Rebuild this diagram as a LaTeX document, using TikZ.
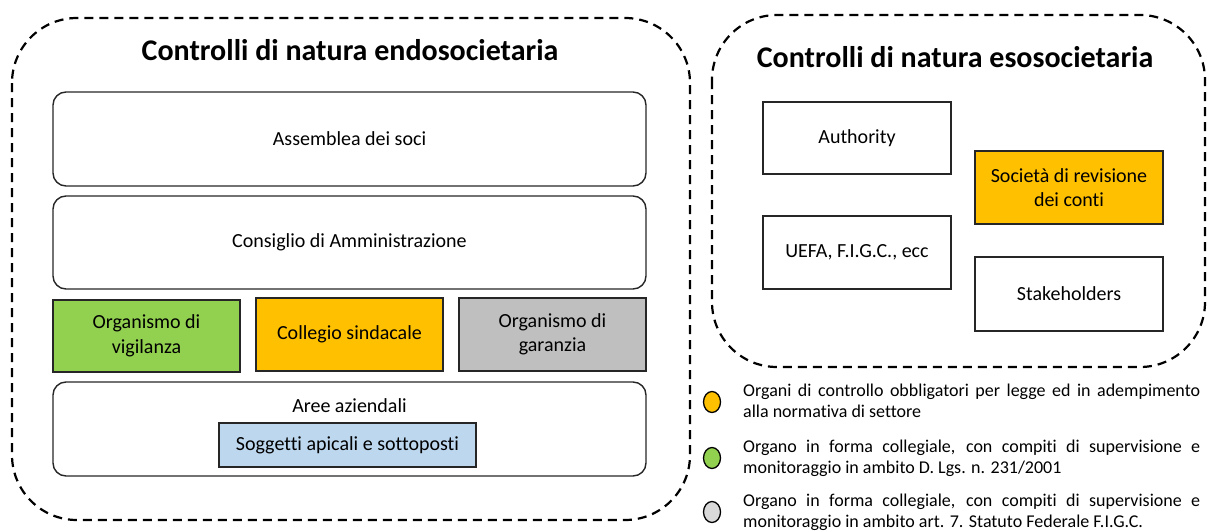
\documentclass[tikz,border=0pt]{standalone}
\usepackage{fontspec}
\setmainfont[Ligatures=NoCommon]{Carlito}
\usetikzlibrary{shapes.geometric}
\definecolor{cgreen}{HTML}{92D050}
\definecolor{corange}{HTML}{FFC000}
\definecolor{cgray}{HTML}{BFBFBF}
\definecolor{clgray}{HTML}{D9D9D9}
\definecolor{cblue}{HTML}{BDD7EE}
\definecolor{cline}{HTML}{262626}
\begin{document}
\begin{tikzpicture}[x=1pt,y=-1pt,
  outer/.style={draw, line width=2.2pt, dash pattern=on 9pt off 6pt, rounded corners=65pt},
  rbox/.style={draw=cline, line width=1.4pt, rounded corners=13pt, minimum width=593pt, font=\fontsize{20}{24}\selectfont, align=center},
  sbox/.style={draw=cline, line width=1.4pt, font=\fontsize{20}{24.5}\selectfont, align=center, inner sep=0pt},
  ttl/.style={font=\bfseries\fontsize{30}{36}\selectfont},
  leg/.style={draw, line width=1.3pt, ellipse, minimum width=17pt, minimum height=21pt, inner sep=0pt},
  legtxt/.style={anchor=north west, inner sep=0pt, font=\fontsize{18}{20.5}\selectfont}
]
\useasboundingbox (0,0) rectangle (1207,530);
\draw[outer] (12,18) rectangle (690,520);
\draw[outer] (712,15) rectangle (1205,367);
\node[ttl] (t1) at (350,50) {Controlli di natura endosocietaria};
\node[ttl] (t2) at (955,57) {Controlli di natura esosocietaria};
\node[rbox, minimum height=94pt] (ass) at (349.5,139) {Assemblea dei soci};
\node[rbox, minimum height=93pt] (cda) at (349.5,242.5) {Consiglio di Amministrazione};
\node[sbox, fill=cgreen, minimum width=187pt, minimum height=72pt] (odv) at (146.5,336) {Organismo di\\vigilanza};
\node[sbox, fill=corange, minimum width=187pt, minimum height=73pt] (cs) at (349.5,334.5) {Collegio sindacale};
\node[sbox, fill=cgray, minimum width=187pt, minimum height=73pt] (og) at (552.5,334.5) {Organismo di\\garanzia};
\node[rbox, minimum height=94pt] (aree) at (349.5,429) {};
\node[font=\fontsize{20}{24}\selectfont] (areet) at (349.5,406) {Aree aziendali};
\node[sbox, fill=cblue, minimum width=257pt, minimum height=44pt] (sog) at (347.5,445) {Soggetti apicali e sottoposti};
\node[sbox, minimum width=188pt, minimum height=72pt] (auth) at (857,138) {Authority};
\node[sbox, minimum width=188pt, minimum height=73pt] (uefa) at (857,252.5) {UEFA, F.I.G.C., ecc};
\node[sbox, fill=corange, minimum width=188pt, minimum height=73pt] (soc) at (1069,187.5) {Società di revisione\\dei conti};
\node[sbox, minimum width=188pt, minimum height=74pt] (stk) at (1069,294) {Stakeholders};
\node[leg, fill=corange] (l1) at (712,402) {};
\node[leg, fill=cgreen] (l2) at (712,458) {};
\node[leg, fill=clgray] (l3) at (712,512) {};
\node[legtxt] (lt1) at (743,384) {\parbox[t]{457pt}{Organi di controllo obbligatori per legge ed in adempimento\linebreak alla normativa di settore}};
\node[legtxt] (lt2) at (743,440) {\parbox[t]{457pt}{Organo in forma collegiale, con compiti di supervisione e\linebreak monitoraggio in ambito D. Lgs. n. 231/2001}};
\node[legtxt] (lt3) at (743,494) {\parbox[t]{457pt}{Organo in forma collegiale, con compiti di supervisione e\linebreak monitoraggio in ambito art. 7. Statuto Federale F.I.G.C.}};
\end{tikzpicture}
\end{document}
